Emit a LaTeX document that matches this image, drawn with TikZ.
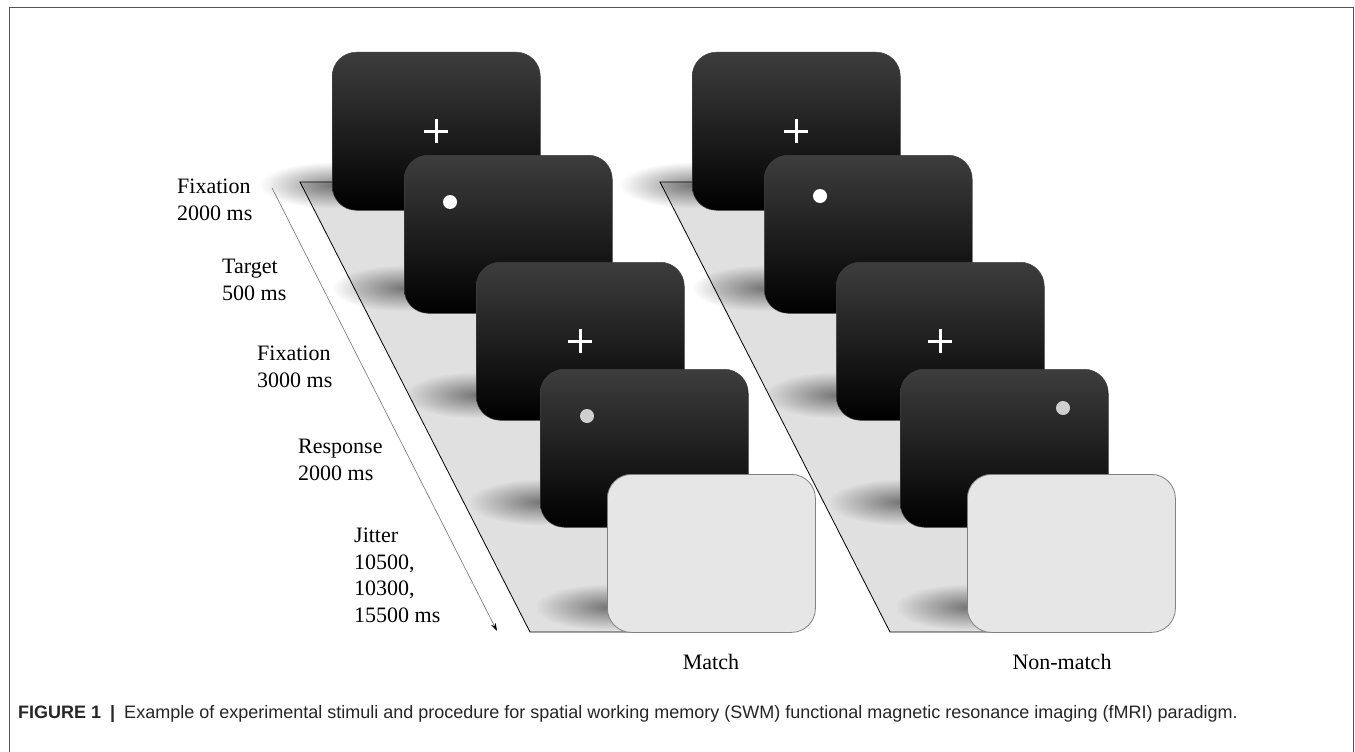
\documentclass[tikz,border=0pt]{standalone}
\usepackage{fontspec}
\setmainfont{Liberation Serif}
\newfontfamily\capfont{Liberation Sans}
\usetikzlibrary{fadings,arrows.meta}
\tikzfading[name=shfade, inner color=transparent!5, outer color=transparent!100]
\definecolor{floorc}{HTML}{E0E0E0}
\definecolor{blankc}{HTML}{E6E6E6}
\definecolor{framec}{HTML}{555555}
\definecolor{respdot}{HTML}{CFCFCF}
\begin{document}
\begin{tikzpicture}[x=1pt,y=-1pt,
  card/.style={rounded corners=24pt, minimum width=208pt, minimum height=158pt,
    anchor=north west, inner sep=0pt, draw=black!75, line width=0.5pt,
    top color=black!76, middle color=black, bottom color=black},
  blank/.style={rounded corners=24pt, minimum width=208pt, minimum height=158pt,
    anchor=north west, inner sep=0pt, draw=black!50, line width=0.8pt, fill=blankc},
  floorp/.style={fill=floorc, draw=black, line width=0.8pt},
  shadowp/.style={black, opacity=0.5, path fading=shfade},
  crossp/.style={white, line width=2.8pt},
  dotw/.style={circle, fill=white, minimum size=14pt, inner sep=0pt},
  dotg/.style={circle, fill=respdot, minimum size=14pt, inner sep=0pt},
  lbl/.style={font=\fontsize{22}{26.5}\selectfont, align=left, inner sep=0pt, anchor=base west},
  cond/.style={font=\fontsize{22}{26.5}\selectfont, inner sep=0pt, anchor=base}
]
\useasboundingbox (0,0) rectangle (1355,752);
\fill[white] (0,0) rectangle (1355,752);
% frame
\draw[framec, line width=1pt] (9,752) -- (9,8) -- (1353,8) -- (1353,752);

% floors
\filldraw[floorp] (300,182) -- (525,182) -- (755,632) -- (530,632) -- cycle;
\filldraw[floorp] (660,182) -- (885,182) -- (1115,632) -- (890,632) -- cycle;

% shadows
\foreach \L/\B in {332/210,404/313,476/420,540/527,607/632,692/210,764/313,836/420,900/527,967/632}
  \fill[shadowp] (\L-72,\B-48) rectangle (\L+72,\B-2);

% time arrow
\coordinate (a0) at (272,188);
\coordinate (a1) at (497,631);
\draw[black!55, line width=0.6pt, -{Stealth[length=8pt,width=5pt,black]}] (a0) -- (a1);

% Match stack
\node[card] (m1) at (332,52) {};
\node[card] (m2) at (404,155) {};
\node[card] (m3) at (476,262) {};
\node[card] (m4) at (540,369) {};
\node[blank] (m5) at (607,474) {};
\draw[crossp] ([xshift=-12pt]m1.center) -- ([xshift=12pt]m1.center)
              ([yshift=-12pt]m1.center) -- ([yshift=12pt]m1.center);
\draw[crossp] ([xshift=-12pt]m3.center) -- ([xshift=12pt]m3.center)
              ([yshift=-12pt]m3.center) -- ([yshift=12pt]m3.center);
\node[dotw] (md2) at (450,202) {};
\node[dotg] (md4) at (587,416) {};

% Non-match stack
\node[card] (n1) at (692,52) {};
\node[card] (n2) at (764,155) {};
\node[card] (n3) at (836,262) {};
\node[card] (n4) at (900,369) {};
\node[blank] (n5) at (967,474) {};
\draw[crossp] ([xshift=-12pt]n1.center) -- ([xshift=12pt]n1.center)
              ([yshift=-12pt]n1.center) -- ([yshift=12pt]n1.center);
\draw[crossp] ([xshift=-12pt]n3.center) -- ([xshift=12pt]n3.center)
              ([yshift=-12pt]n3.center) -- ([yshift=12pt]n3.center);
\node[dotw] (nd2) at (820,196) {};
\node[dotg] (nd4) at (1063,408) {};

% labels (anchor at baseline of last line)
\node[lbl] (l1) at (177,220) {Fixation\\2000 ms};
\node[lbl] (l2) at (222,300) {Target\\500 ms};
\node[lbl] (l3) at (257,387) {Fixation\\3000 ms};
\node[lbl] (l4) at (298,480) {Response\\2000 ms};
\node[lbl] (l5) at (354,622) {Jitter\\10500,\\10300,\\15500 ms};

\node[cond] (cm) at (711,669) {Match};
\node[cond] (cn) at (1062,669) {Non-match};

% caption
\node[font=\capfont\fontsize{18}{20}\selectfont, text=black!85, inner sep=0pt, anchor=base west] (cap) at (18,718)
  {\textbf{FIGURE 1}\enspace\textbf{|}\enspace Example of experimental stimuli and procedure for spatial working memory (SWM) functional magnetic resonance imaging (fMRI) paradigm.};
\end{tikzpicture}
\end{document}
